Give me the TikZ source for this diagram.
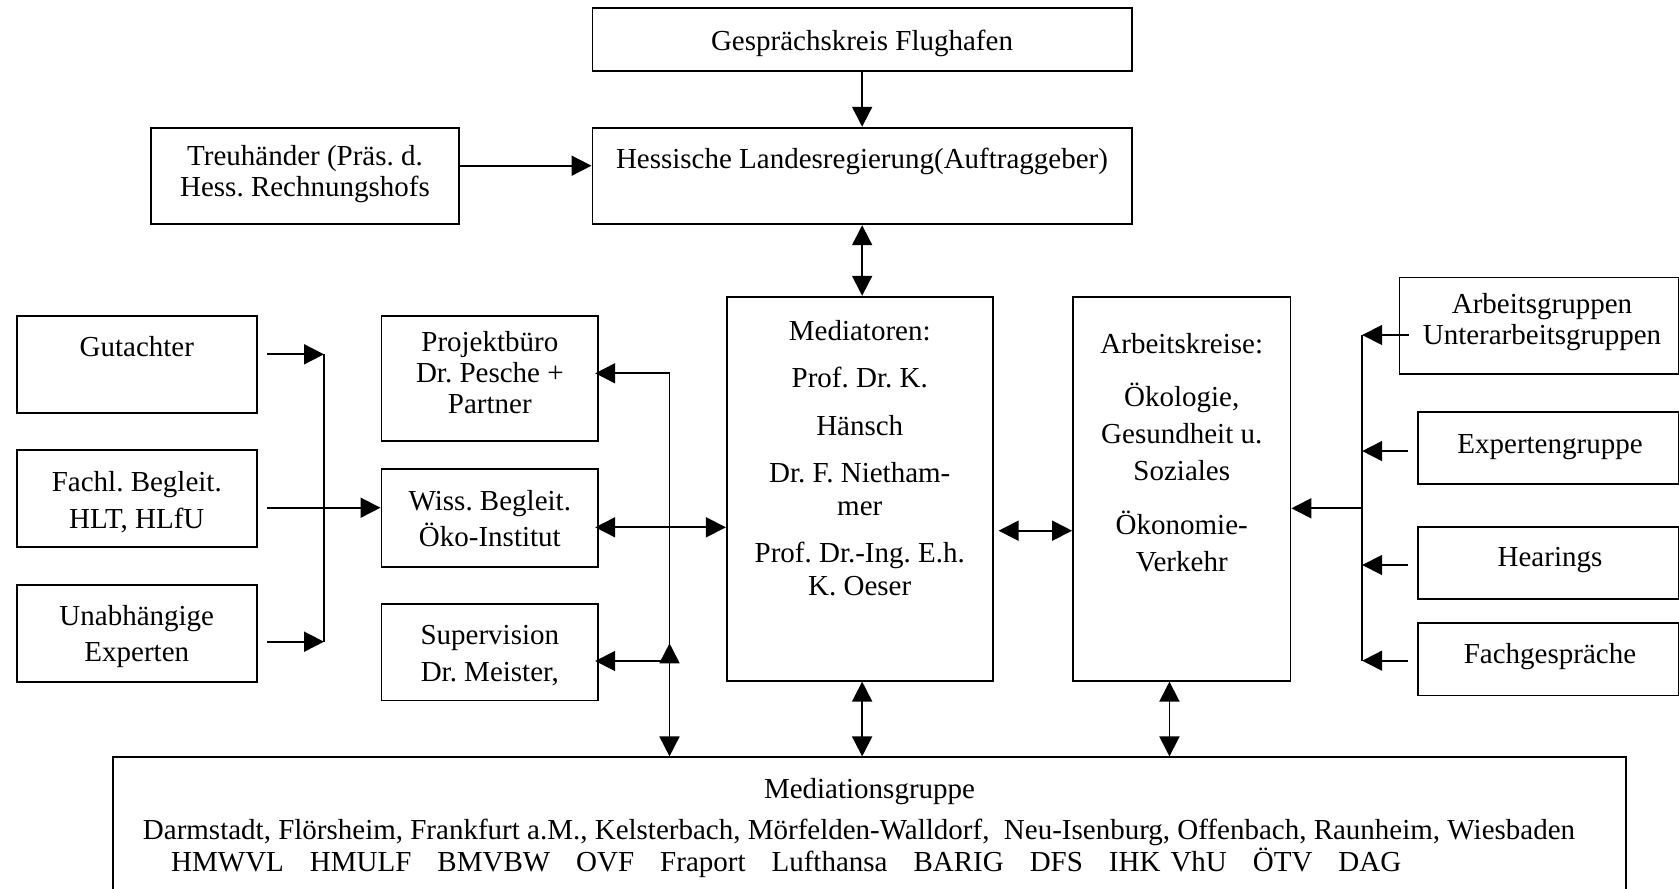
\documentclass[tikz,border=0pt]{standalone}
\usepackage{fontspec}
\setmainfont{Liberation Serif}
\usetikzlibrary{arrows.meta}
\frenchspacing
\newcommand{\mlines}[1]{\begin{tabular}[t]{@{}c@{}}#1\end{tabular}}
\begin{document}
\begin{tikzpicture}[x=1pt,y=-1pt,
  box/.style={draw, line width=1.8pt, rectangle, inner sep=0pt},
  txt/.style={inner sep=0pt, anchor=base, font=\fontsize{29}{33}\selectfont},
  con/.style={line width=1.8pt},
  arr/.style={con, -{Triangle[length=20pt,width=20pt]}},
  darr/.style={con, {Triangle[length=20pt,width=20pt]}-{Triangle[length=20pt,width=20pt]}},
]
\fill[white] (0,0) rectangle (1679,889);
\useasboundingbox (0,0) rectangle (1679,889);

% boxes
\node[box, minimum width=539.5pt, minimum height=62.4pt] (gk) at (862.15,39.5) {};
\node[box, minimum width=539.5pt, minimum height=96.6pt] (hl) at (862.15,176) {};
\node[box, minimum width=308pt, minimum height=96.6pt] (tr) at (305,176) {};
\node[box, minimum width=240.4pt, minimum height=96.7pt] (gu) at (136.8,364.35) {};
\node[box, minimum width=240.4pt, minimum height=96.7pt] (fa) at (136.8,498.35) {};
\node[box, minimum width=240.4pt, minimum height=96.7pt] (un) at (136.8,633.35) {};
\node[box, minimum width=216.9pt, minimum height=124.7pt] (pb) at (489.85,378.35) {};
\node[box, minimum width=216.9pt, minimum height=97.4pt] (wb) at (489.85,518) {};
\node[box, minimum width=216.9pt, minimum height=96.5pt] (sv) at (489.85,652.25) {};
\node[box, minimum width=265.9pt, minimum height=384pt] (md) at (859.75,488.7) {};
\node[box, minimum width=217.5pt, minimum height=384pt] (ak) at (1181.75,488.7) {};
\node[box, minimum width=279pt, minimum height=96.5pt] (ag) at (1539,325.75) {};
\node[box, minimum width=260.2pt, minimum height=72.3pt] (eg) at (1548.4,447.85) {};
\node[box, minimum width=260.2pt, minimum height=72.6pt] (he) at (1548.4,563) {};
\node[box, minimum width=260.2pt, minimum height=72.2pt] (fg) at (1548.4,659.4) {};
\node[box, minimum width=1513.5pt, minimum height=142.7pt] (mg) at (869.55,828.65) {};

% texts
\node[txt] (gkt) at (862,50) {Gesprächskreis Flughafen};
\node[txt] (hlt) at (862,168.3) {Hessische Landesregierung(Auftraggeber)};
\node[txt, font=\fontsize{29}{31}\selectfont] (trt) at (305,165) {\mlines{Treuhänder (Präs. d.\\Hess. Rechnungshofs}};
\node[txt] (gut) at (136.8,356) {Gutachter};
\node[txt, font=\fontsize{29}{36.6}\selectfont] (fat) at (136.8,491.7) {\mlines{Fachl. Begleit.\\HLT, HLfU}};
\node[txt, font=\fontsize{29}{36.7}\selectfont] (unt) at (136.8,625) {\mlines{Unabhängige\\Experten}};
\node[txt, font=\fontsize{29}{31}\selectfont] (pbt) at (489.85,351.7) {\mlines{Projektbüro\\Dr. Pesche +\\Partner}};
\node[txt, font=\fontsize{29}{36.7}\selectfont] (wbt) at (489.85,510) {\mlines{Wiss. Begleit.\\Öko-Institut}};
\node[txt, font=\fontsize{29}{37.7}\selectfont] (svt) at (489.85,644) {\mlines{Supervision\\Dr. Meister,}};
\node[txt, font=\fontsize{29}{32.5}\selectfont] (mdt) at (859.75,340) {\mlines{Mediatoren:\\[15pt]Prof. Dr. K.\\[15pt]Hänsch\\[15pt]Dr. F. Nietham-\\mer\\[15pt]Prof. Dr.-Ing. E.h.\\K. Oeser}};
\node[txt, font=\fontsize{29}{37}\selectfont] (akt) at (1181.75,353.3) {\mlines{Arbeitskreise:\\[16.5pt]Ökologie,\\Gesundheit u.\\Soziales\\[17pt]Ökonomie-\\Verkehr}};
\node[txt, font=\fontsize{29}{30.7}\selectfont] (agt) at (1542,313.3) {\mlines{Arbeitsgruppen\\Unterarbeitsgruppen}};
\node[txt] (egt) at (1550,453.3) {Expertengruppe};
\node[txt] (het) at (1550,566.7) {Hearings};
\node[txt] (fgt) at (1550,663.3) {Fachgespräche};
\node[txt] (mg1) at (869.5,798) {Mediationsgruppe};
\node[txt] (mg2) at (859,839.5) {Darmstadt, Flörsheim, Frankfurt a.M., Kelsterbach, Mörfelden-Walldorf,\ \ Neu-Isenburg, Offenbach, Raunheim, Wiesbaden};
\node[txt, anchor=base west] (mg3) at (171,871) {HMWVL\hspace{26pt}HMULF\hspace{26pt}BMVBW\hspace{26pt}OVF\hspace{26pt}Fraport\hspace{26pt}Lufthansa\hspace{26pt}BARIG\hspace{26pt}DFS\hspace{26pt}IHK\hspace{10pt}VhU\hspace{26pt}ÖTV\hspace{26pt}DAG};

% connectors top
\draw[arr] (gk) -- (hl);
\draw[arr] ([yshift=10.3pt]tr.east) -- ([yshift=10.3pt]hl.west);
\draw[darr] (hl.south) -- (hl.south |- md.north);

% left bus
\coordinate (lbT) at (324,354.3);
\coordinate (lbB) at (324,641.7);
\draw[con] (lbT) -- (lbB);
\draw[arr] ([xshift=9pt]gu.east |- lbT) -- (lbT);
\draw[arr] ([xshift=9pt]un.east |- lbB) -- (lbB);
\coordinate (wbL) at ([yshift=10.3pt]wb.west);
\draw[arr] ([xshift=9pt]fa.east |- wbL) -- (wbL);

% middle bus
\coordinate (mbT) at (669.5,373.3);
\coordinate (mbS) at (669.5,661);
\coordinate (mbU) at (669.5,643.3);
\draw[arr] (mbT) -- ([xshift=-4pt]pb.east |- mbT);
\draw[arr] (mbT) -- (mbT |- mg.north);
\draw[arr] (mbS) -- ([xshift=-4pt]sv.east |- mbS);
\draw[arr] (mbT |- mg.north) -- (mbU);

% mediators
\coordinate (wbR) at ([yshift=-9.3pt]wb.east);
\draw[darr] ([xshift=-4pt]wbR) -- (md.west |- wbR);
\coordinate (mdR) at ([xshift=5pt,yshift=-42pt]md.east);
\draw[darr] (mdR) -- (ak.west |- mdR);
\draw[darr] (hl.south |- md.south) -- (hl.south |- mg.north);
\draw[darr] ([xshift=-12.3pt]ak.south) -- ([xshift=-12.3pt]ak.south |- mg.north);

% right bus
\coordinate (rbT) at (1362.2,335);
\coordinate (rbB) at (1362.2,660.7);
\draw[con] (rbT) -- (rbB);
\draw[arr] ([xshift=10pt]ag.west |- rbT) -- (rbT);
\coordinate (egA) at ([xshift=-9pt,yshift=-3.2pt]eg.west);
\draw[arr] (egA) -- (rbT |- egA);
\coordinate (heA) at ([xshift=-9pt,yshift=-2pt]he.west);
\draw[arr] (heA) -- (rbT |- heA);
\coordinate (fgA) at ([xshift=-9pt]fg.west |- rbB);
\draw[arr] (fgA) -- (rbB);
\coordinate (akA) at ([yshift=-19.6pt]ak.east);
\draw[arr] (rbT |- akA) -- (akA);
\end{tikzpicture}
\end{document}
